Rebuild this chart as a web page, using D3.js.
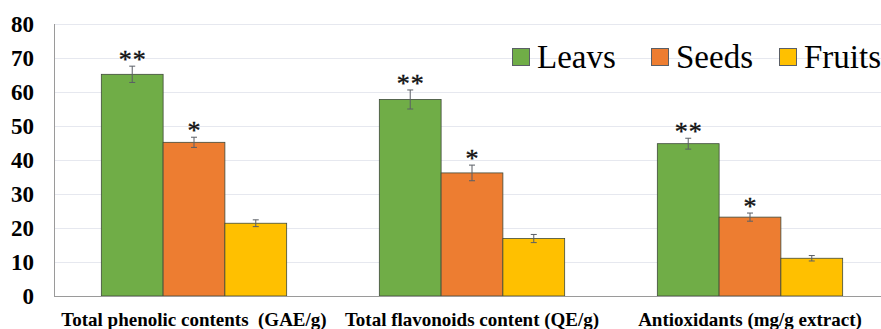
<!DOCTYPE html>
<html><head><meta charset="utf-8"><script src="https://cdn.jsdelivr.net/npm/d3@7"></script></head>
<body style="margin:0">
<svg id="chart" width="881" height="329" style="display:block"></svg>
<script>
// Categories and series
const categories = [
  "Total phenolic contents  (GAE/g)",
  "Total flavonoids content (QE/g)",
  "Antioxidants (mg/g extract)"
];
const seriesNames = ["Leavs", "Seeds", "Fruits"];
const leavsValues  = [65.2, 57.8, 44.8];
const seedsValues  = [45.2, 36.2, 23.2];
const fruitsValues = [21.4, 16.9, 11.1];
const leavsErr  = [2.4, 2.8, 1.6];
const seedsErr  = [1.5, 2.3, 1.2];
const fruitsErr = [1.0, 1.2, 0.8];
const leavsMarks  = ["**", "**", "**"];
const seedsMarks  = ["*", "*", "*"];
const fruitsMarks = ["", "", ""];
const yTicks = [0, 10, 20, 30, 40, 50, 60, 70, 80];

const colors = ["#70AD47", "#ED7D31", "#FFC000"];
const values = [leavsValues, seedsValues, fruitsValues];
const errors = [leavsErr, seedsErr, fruitsErr];
const marks = [leavsMarks, seedsMarks, fruitsMarks];

const FONT = "Liberation Serif";
const svg = d3.select("#chart");

const plotLeft = 55, plotRight = 889, plotTop = 24, plotBottom = 296;

const y = d3.scaleLinear().domain([0, 80]).range([plotBottom, plotTop]);
const x0 = d3.scaleBand().domain(categories).range([plotLeft, plotRight])
  .paddingInner(1 / 3).paddingOuter(1 / 6);
const x1 = d3.scaleBand().domain(seriesNames).range([0, x0.bandwidth()]).padding(0);

// Horizontal gridlines
svg.append("g")
  .selectAll("line")
  .data(yTicks.filter(t => t > 0))
  .join("line")
  .attr("x1", plotLeft).attr("x2", plotRight)
  .attr("y1", d => Math.round(y(d)) + 0.5).attr("y2", d => Math.round(y(d)) + 0.5)
  .attr("stroke", "#e6e8ef").attr("stroke-width", 1);

// Y axis tick labels
svg.append("g")
  .selectAll("text")
  .data(yTicks)
  .join("text")
  .attr("x", 34)
  .attr("y", d => y(d))
  .attr("dy", "0.36em")
  .attr("text-anchor", "end")
  .style("font-family", FONT)
  .style("font-weight", "bold")
  .style("font-size", "23px")
  .attr("fill", "#000")
  .text(d => d);

// Bars
const rows = [];
categories.forEach((c, i) => {
  seriesNames.forEach((s, j) => {
    rows.push({ cat: c, series: s, v: values[j][i], e: errors[j][i], m: marks[j][i], color: colors[j] });
  });
});

svg.append("g")
  .selectAll("rect")
  .data(rows)
  .join("rect")
  .attr("x", d => x0(d.cat) + x1(d.series))
  .attr("y", d => y(d.v))
  .attr("width", x1.bandwidth())
  .attr("height", d => y(0) - y(d.v))
  .attr("fill", d => d.color)
  .attr("stroke", "#3f4a3a")
  .attr("stroke-width", 0.8);

// Error bars
const eb = svg.append("g").attr("stroke", "#5a5f66").attr("stroke-width", 1);
rows.forEach(d => {
  const cx = x0(d.cat) + x1(d.series) + x1.bandwidth() / 2;
  eb.append("line").attr("x1", cx).attr("x2", cx).attr("y1", y(d.v + d.e)).attr("y2", y(d.v - d.e));
  eb.append("line").attr("x1", cx - 3).attr("x2", cx + 3).attr("y1", y(d.v + d.e)).attr("y2", y(d.v + d.e));
  eb.append("line").attr("x1", cx - 3).attr("x2", cx + 3).attr("y1", y(d.v - d.e)).attr("y2", y(d.v - d.e));
});

// Significance marks
svg.append("g")
  .selectAll("text")
  .data(rows.filter(d => d.m))
  .join("text")
  .attr("x", d => x0(d.cat) + x1(d.series) + x1.bandwidth() / 2 + 0.5)
  .attr("y", d => y(d.v + d.e) + 2)
  .attr("text-anchor", "middle")
  .style("font-family", FONT)
  .style("font-size", "26px")
  .style("letter-spacing", "1px")
  .attr("fill", "#111")
  .attr("stroke", "#111")
  .attr("stroke-width", 0.4)
  .text(d => d.m);

// Axis lines
svg.append("line")
  .attr("x1", plotLeft - 0.5).attr("x2", plotLeft - 0.5)
  .attr("y1", plotTop).attr("y2", plotBottom)
  .attr("stroke", "#9a9a9a").attr("stroke-width", 1);
svg.append("line")
  .attr("x1", plotLeft - 1).attr("x2", plotRight)
  .attr("y1", plotBottom + 0.5).attr("y2", plotBottom + 0.5)
  .attr("stroke", "#9a9a9a").attr("stroke-width", 1);

// Category labels
svg.append("g")
  .selectAll("text")
  .data(categories)
  .join("text")
  .attr("x", d => x0(d) + x0.bandwidth() / 2)
  .attr("y", 326)
  .attr("text-anchor", "middle")
  .style("font-family", FONT)
  .style("font-weight", "bold")
  .style("font-size", "19px")
  .style("white-space", "pre")
  .attr("fill", "#000")
  .text(d => d);

// Legend
const legendX = [512, 651, 779];
const legend = svg.append("g");
seriesNames.forEach((s, j) => {
  legend.append("rect")
    .attr("x", legendX[j] + 0.5).attr("y", 48.5)
    .attr("width", 17).attr("height", 17)
    .attr("fill", colors[j])
    .attr("stroke", "#5a5f66").attr("stroke-width", 1);
  legend.append("text")
    .attr("x", legendX[j] + 25)
    .attr("y", 67.5)
    .style("font-family", FONT)
    .style("font-size", "33px")
    .attr("fill", "#000")
    .text(s);
});
</script>
</body>
</html>
